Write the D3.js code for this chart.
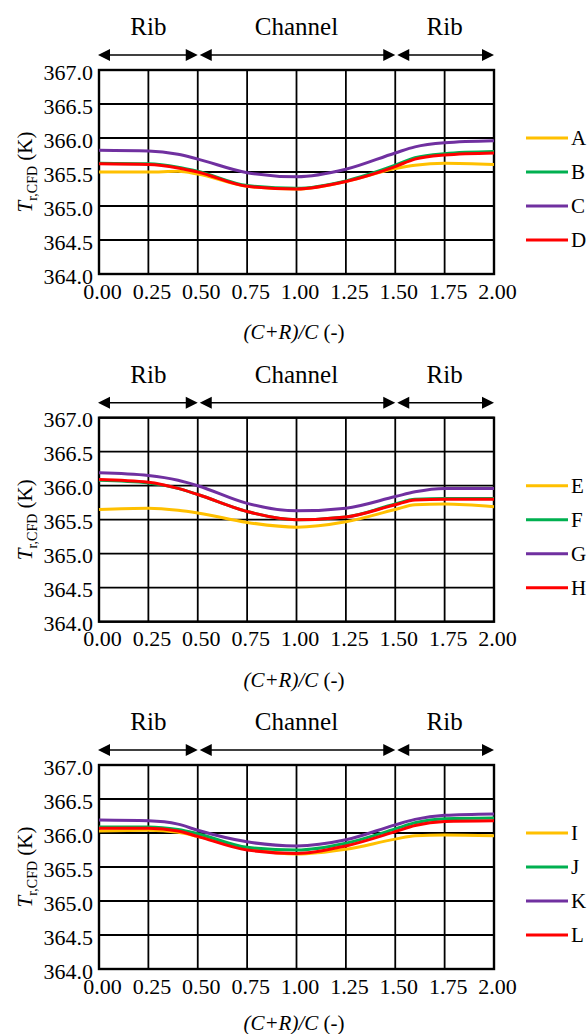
<!DOCTYPE html>
<html>
<head>
<meta charset="utf-8">
<script src="https://cdn.jsdelivr.net/npm/d3@7"></script>
<style>
body { margin: 0; background: #fff; }
text { font-family: "Liberation Serif", "Times New Roman", serif; fill: #000; }
</style>
</head>
<body>
<script>
// x positions (C+R)/C
var xs = [0, 0.25, 0.4, 0.5, 0.75, 1.0, 1.25, 1.5, 1.6, 1.75, 2.0];

// panel 1
var A = [365.50, 365.50, 365.51, 365.47, 365.29, 365.25, 365.36, 365.55, 365.60, 365.63, 365.61];
var B = [365.63, 365.62, 365.57, 365.51, 365.30, 365.26, 365.37, 365.60, 365.71, 365.77, 365.80];
var C = [365.82, 365.81, 365.76, 365.69, 365.49, 365.43, 365.54, 365.78, 365.87, 365.93, 365.96];
var D = [365.62, 365.61, 365.56, 365.50, 365.29, 365.25, 365.36, 365.58, 365.69, 365.75, 365.78];

// panel 2
var E = [365.65, 365.67, 365.64, 365.60, 365.46, 365.39, 365.47, 365.65, 365.72, 365.73, 365.69];
var F = [366.08, 366.04, 365.96, 365.87, 365.62, 365.50, 365.54, 365.73, 365.80, 365.81, 365.81];
var G = [366.19, 366.15, 366.08, 366.00, 365.74, 365.63, 365.67, 365.84, 365.91, 365.96, 365.96];
var H = [366.09, 366.05, 365.96, 365.87, 365.62, 365.50, 365.54, 365.72, 365.79, 365.80, 365.80];

// panel 3
var I = [366.03, 366.04, 366.01, 365.95, 365.77, 365.69, 365.76, 365.91, 365.96, 365.97, 365.96];
var J = [366.09, 366.09, 366.05, 365.99, 365.79, 365.75, 365.85, 366.06, 366.15, 366.21, 366.22];
var K = [366.19, 366.18, 366.13, 366.04, 365.87, 365.81, 365.90, 366.12, 366.20, 366.26, 366.28];
var L = [366.07, 366.07, 366.03, 365.95, 365.75, 365.70, 365.81, 366.02, 366.11, 366.17, 366.18];

var xTicks = [0, 0.25, 0.5, 0.75, 1.0, 1.25, 1.5, 1.75, 2.0];
var yTicks = [364.0, 364.5, 365.0, 365.5, 366.0, 366.5, 367.0];
var colors = ["#FFC000", "#00B050", "#7030A0", "#FF0000"];
var legendAt = [366.0, 365.5, 365.0, 364.5];
var regions = [["Rib", 0, 0.5], ["Channel", 0.5, 1.5], ["Rib", 1.5, 2.0]];

var panels = [
    { top: 70, names: ["A", "B", "C", "D"], series: [A, B, C, D] },
    { top: 417.7, names: ["E", "F", "G", "H"], series: [E, F, G, H] },
    { top: 765, names: ["I", "J", "K", "L"], series: [I, J, K, L] }
];

var w = 588, h = 1034;
var left = 99, right = 494, ph = 204;

var svg = d3.select("body")
    .append("svg")
    .attr("width", w)
    .attr("height", h);

var x = d3.scaleLinear().domain([0, 2]).range([left, right]);

function arrowHead(g, tip, y, dir) {
    // dir = 1 points right, -1 points left
    g.append("path")
        .attr("d", "M" + tip + "," + y + "L" + (tip - dir * 12) + "," + (y - 6) + "L" + (tip - dir * 12) + "," + (y + 6) + "Z")
        .attr("fill", "#000");
}

panels.forEach(function (p, pi) {
    var g = svg.append("g");
    var y = d3.scaleLinear().domain([364, 367]).range([p.top + ph, p.top]);

    // gridlines
    g.selectAll(".vg").data(xTicks).enter().append("line")
        .attr("x1", function (d) { return x(d); })
        .attr("x2", function (d) { return x(d); })
        .attr("y1", p.top).attr("y2", p.top + ph)
        .attr("stroke", "#000").attr("stroke-width", 1.8);
    g.selectAll(".hg").data(yTicks).enter().append("line")
        .attr("x1", left).attr("x2", right)
        .attr("y1", function (d) { return y(d); })
        .attr("y2", function (d) { return y(d); })
        .attr("stroke", "#000").attr("stroke-width", 1.8);
    g.append("rect")
        .attr("x", left).attr("y", p.top)
        .attr("width", right - left).attr("height", ph)
        .attr("fill", "none").attr("stroke", "#000").attr("stroke-width", 2.4);

    // axes (labels only)
    var ya = g.append("g")
        .attr("transform", "translate(" + left + ",2)")
        .call(d3.axisLeft(y).tickValues(yTicks).tickFormat(d3.format(".1f")).tickSize(0).tickPadding(6));
    var xa = g.append("g")
        .attr("transform", "translate(0," + (p.top + ph) + ")")
        .call(d3.axisBottom(x).tickValues(xTicks).tickFormat(d3.format(".2f")).tickSize(0).tickPadding(9));
    [ya, xa].forEach(function (a) {
        a.select(".domain").remove();
        a.selectAll("text").attr("font-size", 22).attr("font-family", "Liberation Serif");
    });
    xa.selectAll("text").attr("dx", 3);

    // series
    var line = d3.line()
        .x(function (d, i) { return x(xs[i]); })
        .y(function (d) { return y(d); })
        .curve(d3.curveMonotoneX);
    p.series.forEach(function (s, k) {
        g.append("path")
            .attr("d", line(s))
            .attr("fill", "none")
            .attr("stroke", colors[k])
            .attr("stroke-width", 3);
    });

    // legend
    p.names.forEach(function (n, k) {
        var ly = y(legendAt[k]);
        g.append("line")
            .attr("x1", 526).attr("x2", 568)
            .attr("y1", ly).attr("y2", ly)
            .attr("stroke", colors[k]).attr("stroke-width", 3);
        g.append("text")
            .attr("x", 571).attr("y", ly + 7)
            .attr("font-size", 21)
            .text(n);
    });

    // region arrows and labels
    var ay = p.top - 15;
    regions.forEach(function (r, k) {
        var x0 = x(r[1]) + (k > 0 ? 2 : -1);
        var x1 = x(r[2]);
        g.append("line")
            .attr("x1", x0 + 6).attr("x2", x1 - 6)
            .attr("y1", ay).attr("y2", ay)
            .attr("stroke", "#000").attr("stroke-width", 1.5);
        arrowHead(g, x0, ay, -1);
        arrowHead(g, x1, ay, 1);
        g.append("text")
            .attr("x", x((r[1] + r[2]) / 2))
            .attr("y", p.top - 35)
            .attr("text-anchor", "middle")
            .attr("font-size", 25)
            .text(r[0]);
    });

    // y title
    var yt = g.append("text")
        .attr("transform", "translate(32," + (p.top + ph / 2) + ") rotate(-90)")
        .attr("text-anchor", "middle")
        .attr("font-size", 21);
    yt.append("tspan").attr("font-style", "italic").text("T");
    yt.append("tspan").attr("font-size", 14).attr("dy", 5).text("r,CFD");
    yt.append("tspan").attr("dy", -5).text(" (K)");

    // x title
    var xt = g.append("text")
        .attr("x", 294)
        .attr("y", p.top + ph + (pi === 2 ? 61 : 65))
        .attr("text-anchor", "middle")
        .attr("font-size", 21);
    xt.append("tspan").attr("font-style", "italic").text("(C+R)/C");
    xt.append("tspan").text(" (-)");
});
</script>
</body>
</html>
